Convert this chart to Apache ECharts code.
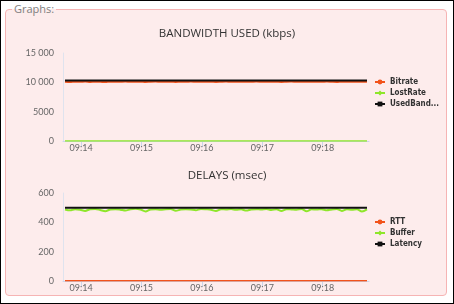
<!DOCTYPE html>
<html><head><meta charset="utf-8">
<script src="https://cdn.jsdelivr.net/npm/echarts@6/dist/echarts.min.js"></script>
<style>
html,body{margin:0;padding:0;background:#fff;}
#wrap{position:relative;width:454px;height:304px;box-sizing:border-box;border:1px solid #000;overflow:hidden;}
#frame{position:absolute;left:4px;top:8px;width:442px;height:287px;box-sizing:border-box;border:1px solid #f6b4b4;border-radius:4px;background:#fdecec;}
#lgd{position:absolute;left:11px;top:0px;padding:0 2px;font-family:"Open Sans",sans-serif;font-size:11px;color:#808080;line-height:16px;background:linear-gradient(#fff 50%,#fdecec 50%);}
#chart{position:absolute;left:-1px;top:-1px;width:454px;height:304px;}
</style></head>
<body><div id="wrap"><div id="frame"></div><div id="lgd">Graphs:</div><div id="chart"></div></div>
<script>
const times = ["09:13:44","09:13:49","09:13:54","09:13:59","09:14:04","09:14:09","09:14:14","09:14:19","09:14:24","09:14:29","09:14:34","09:14:39","09:14:44","09:14:49","09:14:54","09:14:59","09:15:04","09:15:09","09:15:14","09:15:19","09:15:24","09:15:29","09:15:34","09:15:39","09:15:44","09:15:49","09:15:54","09:15:59","09:16:04","09:16:09","09:16:14","09:16:19","09:16:24","09:16:29","09:16:34","09:16:39","09:16:44","09:16:49","09:16:54","09:16:59","09:17:04","09:17:09","09:17:14","09:17:19","09:17:24","09:17:29","09:17:34","09:17:39","09:17:44","09:17:49","09:17:54","09:17:59","09:18:04","09:18:09","09:18:14","09:18:19","09:18:24","09:18:29","09:18:34","09:18:39","09:18:44"];
const bitrate = [10110,10060,10120,10090,10130,10070,10110,10100,10050,10120,10090,10110,10130,10080,10100,10120,10060,10110,10130,10090,10100,10120,10070,10110,10100,10130,10090,10080,10120,10110,10060,10100,10130,10090,10110,10120,10080,10100,10130,10110,10090,10120,10100,10070,10110,10130,10090,10100,10120,10080,10110,10100,10130,10090,10060,10120,10110,10100,10080,10120,10100];
const lostRate = [0,0,0,0,0,0,0,0,0,0,0,0,0,0,0,0,0,0,0,0,0,0,0,0,0,0,0,0,0,0,0,0,0,0,0,0,0,0,0,0,0,0,0,0,0,0,0,0,0,0,0,0,0,0,0,0,0,0,0,0,0];
const usedBandwidth = [10310,10300,10320,10300,10310,10300,10320,10310,10300,10310,10320,10300,10310,10300,10320,10310,10300,10310,10300,10320,10310,10300,10310,10320,10300,10310,10300,10320,10310,10300,10310,10320,10300,10310,10300,10320,10310,10300,10310,10320,10300,10310,10300,10320,10310,10300,10310,10320,10300,10310,10300,10320,10310,10300,10310,10320,10300,10310,10300,10320,10310];
const rtt = [1,1,1,1,1,1,1,1,1,1,1,1,1,1,1,1,1,1,1,1,1,1,1,1,1,1,1,1,1,1,1,1,1,1,1,1,1,1,1,1,1,1,1,1,1,1,1,1,1,1,1,1,1,1,1,1,1,1,1,1,1];
const buffer = [488,482,490,486,478,489,491,484,476,488,490,486,480,489,492,487,474,488,490,485,489,491,479,487,490,488,483,491,489,486,477,490,488,491,485,489,480,488,490,487,491,484,489,478,490,488,486,491,475,489,487,490,482,488,491,478,489,486,490,474,488];
const latency = [500,500,500,500,500,500,500,500,500,500,500,500,500,500,500,500,500,500,500,500,500,500,500,500,500,500,500,500,500,500,500,500,500,500,500,500,500,500,500,500,500,500,500,500,500,500,500,500,500,500,500,500,500,500,500,500,500,500,500,500,500];
const bwTicks = [0,5000,10000,15000];
const delayTicks = [0,200,400,600];
const day = "2024-01-01T";
const xMin = day + "09:13:42";
const xMax = day + "09:18:46";

function pts(vals){ return vals.map((v,i)=>[day+times[i], v]); }
function yfmt(v){ return v >= 10000 ? String(v).replace(/\B(?=(\d{3})+(?!\d))/g,' ') : String(v); }

const chart = echarts.init(document.getElementById('chart'), null, {renderer:'canvas'});
const axisLabel = {color:'#666', fontSize:9, fontFamily:'Lato, sans-serif'};
function xAxis(gi){
  return {type:'time', gridIndex:gi, min:xMin, max:xMax, minInterval:60000, maxInterval:60000,
    axisLine:{show:true, lineStyle:{color:'#ccd6eb'}},
    axisTick:{show:true, length:6, lineStyle:{color:'#ccd6eb'}},
    splitLine:{show:false},
    axisLabel:Object.assign({formatter:'{HH}:{mm}', margin:3, showMinLabel:false, showMaxLabel:false}, axisLabel)};
}
function yAxis(gi, ticks){
  return {type:'value', gridIndex:gi, min:ticks[0], max:ticks[ticks.length-1], interval:ticks[1]-ticks[0],
    axisLine:{show:true, lineStyle:{color:'#dfe3ee'}}, axisTick:{show:false}, splitLine:{show:false},
    axisLabel:Object.assign({formatter:yfmt, margin:9}, axisLabel)};
}
function line(name, data, color, sym, xi, w){
  return {name, type:'line', xAxisIndex:xi, yAxisIndex:xi, data:pts(data), showSymbol:false, symbol:sym, symbolSize:6,
    smooth:0.3, lineStyle:{color, width:w||2}, itemStyle:{color}, animation:false};
}
const legendText = {color:'#333', fontSize:8, fontWeight:'bold', fontFamily:'"DejaVu Sans Condensed","DejaVu Sans", sans-serif', width:56, overflow:'truncate', ellipsis:'...'};
const titleText = {color:'#333', fontSize:11.5, fontWeight:'normal', fontFamily:'"Open Sans", sans-serif'};
chart.setOption({
  animation:false,
  title:[
    {text:'BANDWIDTH USED (kbps)', left:'center', top:23, textStyle:titleText},
    {text:'DELAYS (msec)', left:'center', top:165, textStyle:titleText}
  ],
  grid:[
    {left:63, top:53, width:306, height:88},
    {left:63, top:193, width:306, height:88}
  ],
  legend:[
    {orient:'vertical', left:369, top:73, itemWidth:10, itemHeight:6, itemGap:3, data:['Bitrate','LostRate','UsedBandwidth'], textStyle:legendText},
    {orient:'vertical', left:369, top:213, itemWidth:10, itemHeight:6, itemGap:3, data:['RTT','Buffer','Latency'], textStyle:legendText}
  ],
  xAxis:[xAxis(0), xAxis(1)],
  yAxis:[yAxis(0,bwTicks), yAxis(1,delayTicks)],
  series:[
    line('Bitrate', bitrate, '#f2531b', 'circle', 0),
    line('LostRate', lostRate, '#8ee62a', 'diamond', 0, 1.5),
    line('UsedBandwidth', usedBandwidth, '#111111', 'rect', 0),
    line('RTT', rtt, '#f2531b', 'circle', 1, 1.5),
    line('Buffer', buffer, '#8ee62a', 'diamond', 1),
    line('Latency', latency, '#111111', 'rect', 1)
  ]
});
</script></body></html>
